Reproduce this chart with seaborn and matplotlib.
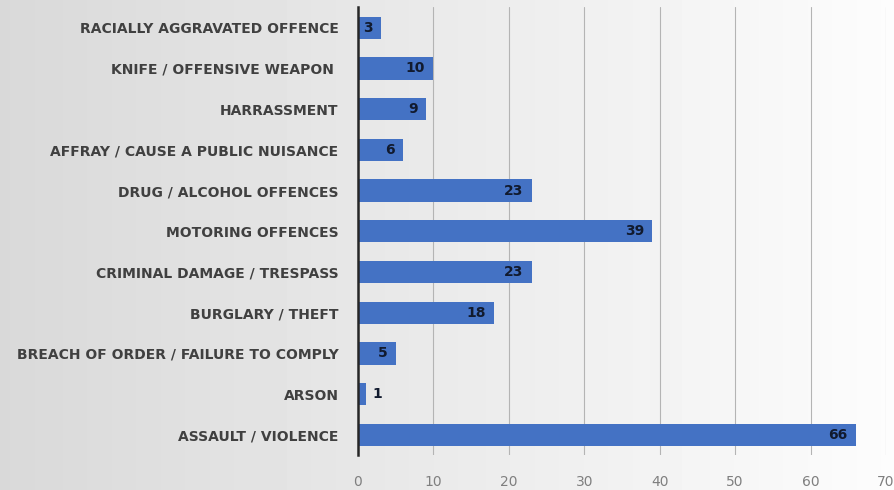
import numpy as np
import pandas as pd
import matplotlib
matplotlib.use('Agg')
import matplotlib.pyplot as plt
import seaborn as sns

# data (top to bottom as in the chart)
categories = [
    "RACIALLY AGGRAVATED OFFENCE",
    "KNIFE / OFFENSIVE WEAPON ",
    "HARRASSMENT",
    "AFFRAY / CAUSE A PUBLIC NUISANCE",
    "DRUG / ALCOHOL OFFENCES",
    "MOTORING OFFENCES",
    "CRIMINAL DAMAGE / TRESPASS",
    "BURGLARY / THEFT",
    "BREACH OF ORDER / FAILURE TO COMPLY",
    "ARSON",
    "ASSAULT / VIOLENCE",
]
counts = [3, 10, 9, 6, 23, 39, 23, 18, 5, 1, 66]
x_ticks = [0, 10, 20, 30, 40, 50, 60, 70]

df = pd.DataFrame({"offence": categories, "count": counts})

sns.set_theme(style="white")
plt.rcParams['font.family'] = ['Liberation Sans Narrow', 'DejaVu Sans']

fig = plt.figure(figsize=(8.95, 4.9), dpi=100)

# gradient background
bg = fig.add_axes([0, 0, 1, 1], zorder=0)
grad = np.linspace(0.85, 0.99, 256).reshape(1, -1)
bg.imshow(grad, aspect='auto', cmap='gray', vmin=0, vmax=1, extent=[0, 1, 0, 1])
bg.set_axis_off()

ax = fig.add_axes([0.400, 0.071, 0.590, 0.914], zorder=1)
ax.patch.set_alpha(0)

sns.barplot(data=df, x="count", y="offence", orient="h", color="#4472C4",
            width=0.55, saturation=1, linewidth=0, ax=ax, zorder=3)

ax.set_xlim(0, 70)
ax.set_ylim(len(categories) - 0.5, -0.5)
ax.set_xticks(x_ticks)
ax.set_xticklabels([str(t) for t in x_ticks], color="#7f7f7f", fontsize=10)
ax.tick_params(axis='x', length=0, pad=14)
ax.tick_params(axis='y', length=0, pad=14)
for lab in ax.get_yticklabels():
    lab.set_fontweight('bold')
    lab.set_color('#404040')
    lab.set_fontsize(10)
ax.set_xlabel("")
ax.set_ylabel("")

for s in ["top", "right", "bottom"]:
    ax.spines[s].set_visible(False)
ax.spines["left"].set_color("#262626")
ax.spines["left"].set_linewidth(1.8)
ax.spines["left"].set_zorder(5)

for t in x_ticks[1:]:
    ax.axvline(t, color="#b4b4b4", linewidth=0.8, zorder=1)

# value labels
for i, v in enumerate(counts):
    if v >= 3:
        ax.text(v - 1.1, i, str(v), ha='right', va='center', fontsize=10,
                fontweight='bold', color='#111a2e', zorder=6)
    else:
        ax.text(v + 0.9, i, str(v), ha='left', va='center', fontsize=10,
                fontweight='bold', color='#111a2e', zorder=6)

fig.savefig("out.png", dpi=100)
